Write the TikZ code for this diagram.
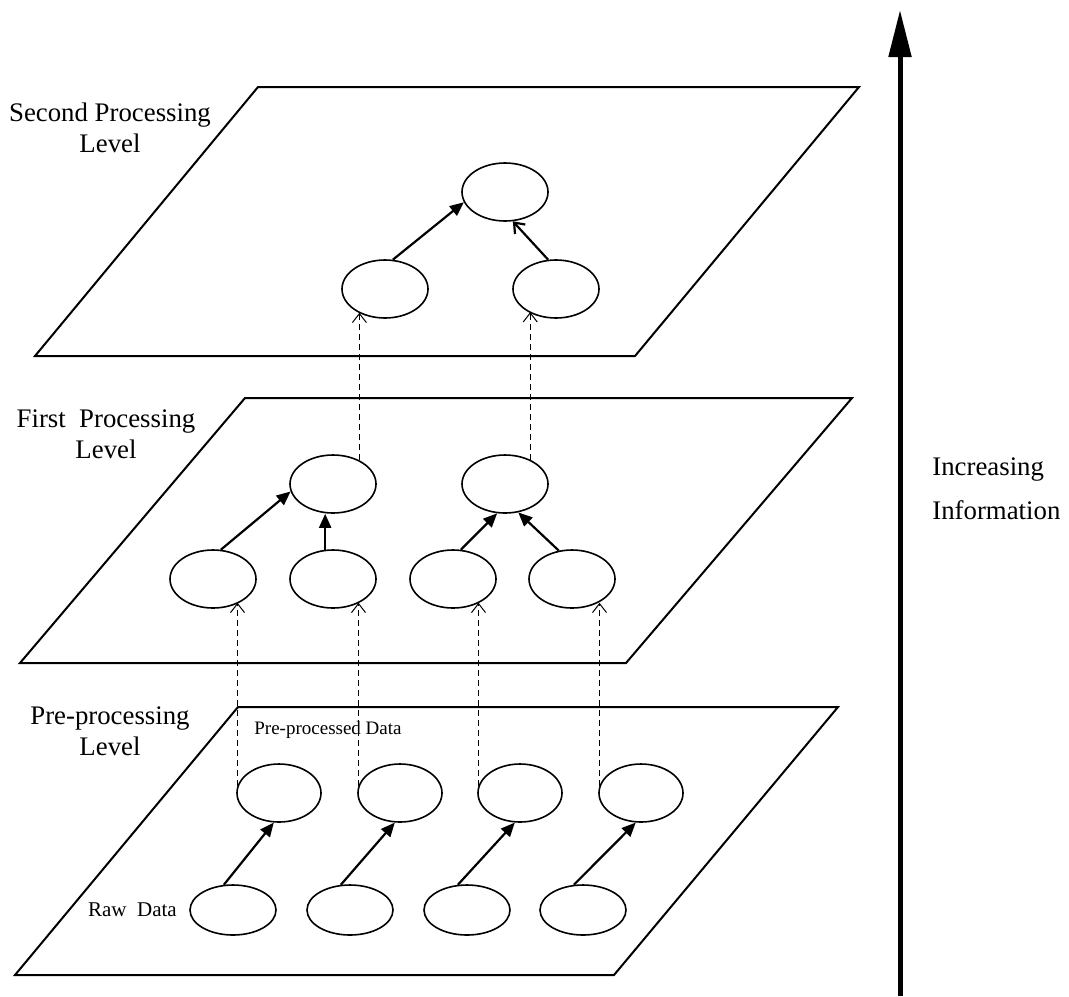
\documentclass[tikz,border=0pt]{standalone}
\usepackage{fontspec}
\setmainfont{Liberation Serif}
\usetikzlibrary{shapes.geometric,arrows.meta,positioning}

\tikzset{
  blob/.style={draw, ellipse, line width=0.8pt, minimum width=43pt, minimum height=29pt, inner sep=0pt},
  preblob/.style={blob, minimum width=42pt},
  rawblob/.style={blob, minimum height=25pt},
  plane/.style={line width=1pt, line join=miter},
  lift/.style={line width=1.1pt, -{Triangle[length=7pt,width=6pt]}},
  liftopen/.style={line width=1.1pt, -{Straight Barb[length=4.5pt,width=7pt]}},
  feed/.style={line width=0.5pt, dash pattern={on 3pt off 2pt}, -{Straight Barb[length=4.5pt,width=7pt]}},
  lvl/.style={align=center, inner sep=0pt, font=\fontsize{13.4}{15.5}\selectfont}
}

\begin{document}
\begin{tikzpicture}[x=0.5pt,y=0.5pt,yscale=-1,xscale=1]
\useasboundingbox (0,0) rectangle (1069,996);
\draw [plane] (258,87) -- (859,87) -- (635,356) -- (35,356) -- cycle;
\draw [plane] (245,398) -- (852,398) -- (626,663) -- (20,663) -- cycle;
\draw [plane] (238,707) -- (838,707) -- (614,975) -- (15,975) -- cycle;
\node [lvl] (secondlbl) at (110,128) {Second Processing\\Level};
\node [lvl] (firstlbl) at (106,434) {First~ Processing\\Level};
\node [lvl] (prelbl) at (110,731) {Pre-processing\\Level};
\node [blob] (top) at (505,192) {};
\node [blob] (topl) at (385,289) {};
\node [blob] (topr) at (556,289) {};
\node [blob] (midl) at (333,484) {};
\node [blob] (midr) at (505,484) {};
\node [blob] (mid1) at (213,579) {};
\node [blob] (mid2) at (333,579) {};
\node [blob] (mid3) at (453,579) {};
\node [blob] (mid4) at (572,579) {};
\foreach \i/\px/\rx in {1/279/233, 2/400/350, 3/520/467, 4/641/583} {
  \node [preblob] (pre\i) at (\px,793) {};
  \node [rawblob] (raw\i) at (\rx,910) {};
  \draw [lift] (raw\i.110) -- (pre\i.-100);
  \draw [feed] (pre\i.170) -- (pre\i.170 |- mid\i.-42);
}
\draw [lift] (topl.75) -- (top.194);
\draw [liftopen] (topr.105) -- (top.-75);
\draw [lift] (mid1.75) -- (midl.190);
\draw [lift] (mid2.105) -- (mid2.105 |- midl.south);
\draw [lift] (mid3.75) -- (midr.-105);
\draw [lift] (mid4.115) -- (midr.-65);
\draw [feed] (midl.42) -- (midl.42 |- topl.-138);
\draw [feed] (midr.44) -- (midr.44 |- topr.-140);
\node [inner sep=0pt, font=\fontsize{9.5}{11}\selectfont] (predata) at (328,730) {Pre-processed Data};
\node [inner sep=0pt, font=\fontsize{10.5}{12}\selectfont, left=6pt of raw1] (rawdata) {Raw~ Data};
\node [lvl, anchor=west] (incr) at (932,470) {Increasing};
\node [lvl, anchor=west] (info) at (932,510) {Information};
\coordinate (infolow) at (900,996);
\coordinate (infohigh) at (900,10);
\draw [line width=2.5pt, -{Triangle[length=23.5pt,width=11pt]}] (infolow) -- (infohigh);
\end{tikzpicture}
\end{document}
